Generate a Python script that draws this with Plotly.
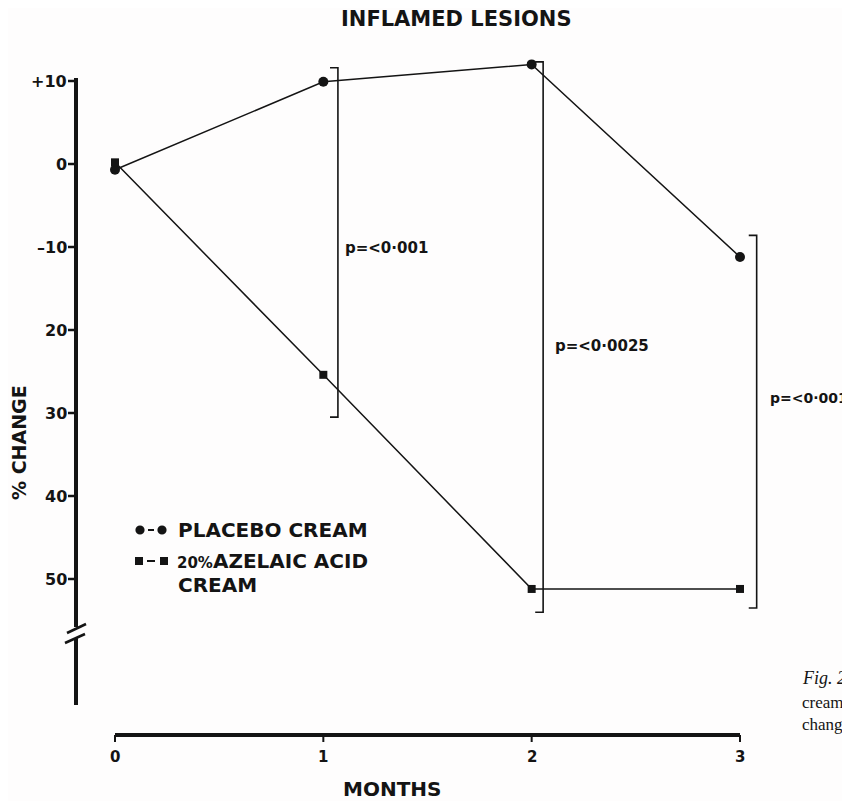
import plotly.graph_objects as go

# ---------------- data ----------------
months = [0, 1, 2, 3]
placebo = [-0.7, 9.9, 12.0, -11.2]          # % change, placebo cream
azelaic = [0.2, -25.4, -51.2, -51.2]        # % change, 20% azelaic acid cream
y_tick_vals = [10, 0, -10, -20, -30, -40, -50]
y_tick_text = ["+10", "0", "–10", "20", "30", "40", "50"]
x_tick_vals = [0, 1, 2, 3]
x_tick_text = ["0", "1", "2", "3"]
p_labels = ["p=<0·001", "p=<0·0025", "p=<0·001"]
bracket_top = [11.6, 12.3, -8.6]
bracket_bottom = [-30.5, -54.0, -53.5]
p_label_y = [-10.1, -21.9, -28.2]

# ---------------- geometry ----------------
W, H = 850, 801
OFF = 8                      # page body margin of the browser
XSCALE = 625 / 3.0           # px per month
YSCALE = 415 / 50.0          # px per % unit
X0 = -(115 - OFF) / XSCALE
X1 = X0 + W / XSCALE
YT = (164 - OFF) / YSCALE
YB = YT - H / YSCALE


def px(x):
    return X0 + (x - OFF) / XSCALE


def py(y):
    return YT - (y - OFF) / YSCALE


INK = "#141414"
FONT = "DejaVu Sans"

fig = go.Figure()
fig.add_trace(go.Scatter(x=months, y=placebo, mode="lines+markers",
                         line=dict(color=INK, width=1.5),
                         marker=dict(symbol="circle", size=10, color=INK),
                         name="PLACEBO CREAM", showlegend=False))
fig.add_trace(go.Scatter(x=months, y=azelaic, mode="lines+markers",
                         line=dict(color=INK, width=1.5),
                         marker=dict(symbol="square", size=8, color=INK),
                         name="20% AZELAIC ACID CREAM", showlegend=False))

shapes = []


def seg(xa, ya, xb, yb, w):
    shapes.append(dict(type="line", xref="x", yref="y", x0=xa, y0=ya, x1=xb, y1=yb,
                       line=dict(color=INK, width=w)))


# y axis with break
ax_x = px(76)
seg(ax_x, py(78), ax_x, py(627), 4)
seg(ax_x, py(638), ax_x, py(705), 4)
seg(px(67), py(633), px(86), py(624), 2.5)
seg(px(65), py(643), px(85), py(634), 2.5)
for v in y_tick_vals:
    seg(px(68), v, ax_x, v, 2.5)

# x axis
x_axis_y = py(735)
seg(x_tick_vals[0], x_axis_y, x_tick_vals[-1], x_axis_y, 4)
for m in x_tick_vals:
    seg(m, x_axis_y, m, py(742), 2)

# significance brackets
bracket_dx = [0.07, 0.055, 0.08]
hook = 0.038
for m, dx, t, b in zip(months[1:], bracket_dx, bracket_top, bracket_bottom):
    bx = m + dx
    shapes.append(dict(type="path", xref="x", yref="y",
                       path=f"M {bx - hook},{t} L {bx},{t} L {bx},{b} L {bx - hook},{b}",
                       line=dict(color=INK, width=1.6)))


# legend keys
def circ(cx, cy, r):
    shapes.append(dict(type="circle", xref="x", yref="y",
                       x0=px(cx - r), x1=px(cx + r), y0=py(cy + r), y1=py(cy - r),
                       fillcolor=INK, line=dict(width=0)))


def sq(cx, cy, r):
    shapes.append(dict(type="rect", xref="x", yref="y",
                       x0=px(cx - r), x1=px(cx + r), y0=py(cy + r), y1=py(cy - r),
                       fillcolor=INK, line=dict(width=0)))


circ(140, 530, 4.6)
circ(162, 530, 4.6)
seg(px(148), py(530), px(154), py(530), 2)
sq(139, 561, 4)
sq(164, 561, 4)
seg(px(147), py(561), px(155), py(561), 2)

annotations = []


def ann(text, x, y, size, xanchor="center", yanchor="middle", family=FONT, angle=0):
    annotations.append(dict(text=text, x=x, y=y, xref="x", yref="y", showarrow=False,
                            xanchor=xanchor, yanchor=yanchor, textangle=angle,
                            font=dict(family=family, size=size, color=INK)))


for v, t in zip(y_tick_vals, y_tick_text):
    ann(f"<b>{t}</b>", px(69), v, 16, xanchor="right")
for m, t in zip(x_tick_vals, x_tick_text):
    ann(f"<b>{t}</b>", m, py(757), 15)

label_dx_px = [5, 10, 11]
label_size = [15, 15, 14]
for m, dx, dpx, lab, ly, sz in zip(months[1:], bracket_dx, label_dx_px, p_labels, p_label_y, label_size):
    ann(f"<b>{lab}</b>", m + dx + dpx / XSCALE, ly, sz, xanchor="left")

ann("<b>INFLAMED LESIONS</b>", px(456), py(19), 21)
ann("<b>MONTHS</b>", px(392), py(789), 20)
ann("<b>% CHANGE</b>", px(19), py(443), 19, angle=-90)

ann("<b>PLACEBO CREAM</b>", px(176), py(530), 20, xanchor="left")
ann("<b><span style='font-size:15px'>20%</span>AZELAIC ACID</b>", px(175), py(561), 20, xanchor="left")
ann("<b>CREAM</b>", px(176), py(585), 20, xanchor="left")

# page caption fragments at right edge
ann("<i>Fig. 2</i>", px(800), py(678), 18, xanchor="left", family="Liberation Serif")
ann("cream", px(800), py(702), 17, xanchor="left", family="Liberation Serif")
ann("chang", px(800), py(724), 17, xanchor="left", family="Liberation Serif")

fig.update_layout(
    width=W, height=H, autosize=False,
    margin=dict(l=0, r=0, t=0, b=0),
    paper_bgcolor="#fefdfd", plot_bgcolor="#fefdfd",
    xaxis=dict(range=[X0, X1], visible=False, fixedrange=True),
    yaxis=dict(range=[YB, YT], visible=False, fixedrange=True),
    shapes=shapes, annotations=annotations,
    showlegend=False,
)

fig.write_html("out.html")
